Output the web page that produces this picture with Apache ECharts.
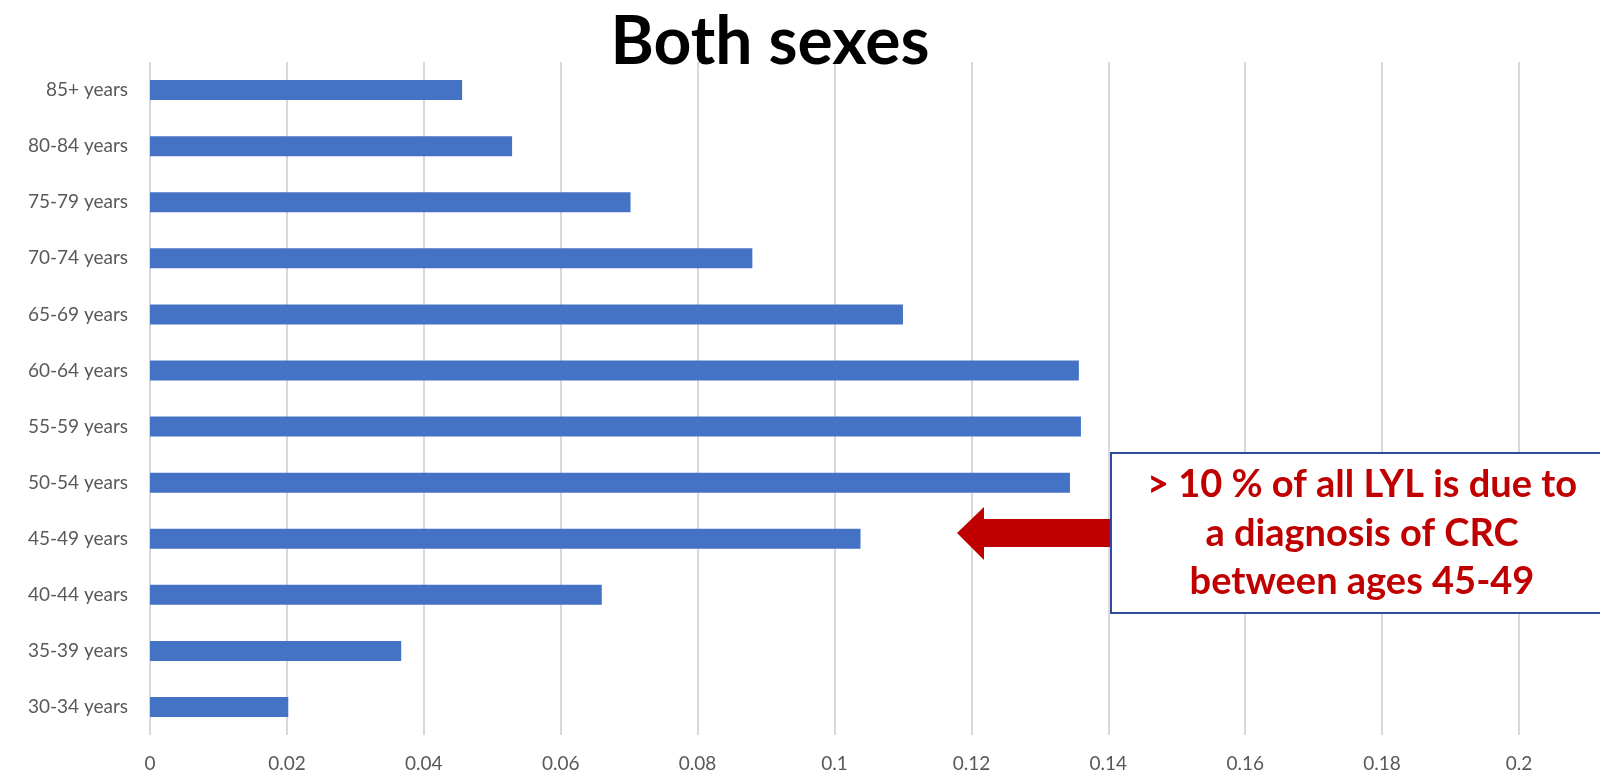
<!DOCTYPE html>
<html>
<head>
<meta charset="utf-8">
<script src="https://cdn.jsdelivr.net/npm/echarts@6/dist/echarts.min.js"></script>
<style>
  html, body { margin: 0; padding: 0; background: #ffffff; }
  #chart { width: 1600px; height: 779px; }
</style>
</head>
<body>
<div id="chart"></div>
<script>
// Share of life-years lost by age at diagnosis, both sexes
const ageGroups = [
  '30-34 years', '35-39 years', '40-44 years', '45-49 years',
  '50-54 years', '55-59 years', '60-64 years', '65-69 years',
  '70-74 years', '75-79 years', '80-84 years', '85+ years'
];
const shareLYL = [
  0.0202, 0.0367, 0.0660, 0.1038,
  0.1344, 0.1360, 0.1357, 0.1100,
  0.0880, 0.0702, 0.0529, 0.0456
];
const xTicks = { min: 0, max: 0.2, step: 0.02 };
const titleText = 'Both sexes';
const noteLines = [
  '> 10 % of all LYL is due to',
  'a diagnosis of CRC',
  'between ages 45-49'
];

const FONT = 'Lato, "Open Sans", "Liberation Sans", sans-serif';
const RED = '#C00000';

const chart = echarts.init(document.getElementById('chart'), null, { renderer: 'canvas' });

chart.setOption({
  animation: false,
  backgroundColor: '#ffffff',
  grid: { left: 150, right: 81, top: 62, bottom: 44, containLabel: false },
  xAxis: {
    type: 'value',
    min: xTicks.min,
    max: xTicks.max,
    interval: xTicks.step,
    axisLine: { show: false },
    axisTick: { show: false },
    splitLine: { show: true, lineStyle: { color: '#d9d9d9', width: 2 } },
    axisLabel: {
      margin: 19,
      fontFamily: FONT,
      fontSize: 19,
      color: '#595959',
      formatter: v => String(parseFloat(v.toFixed(2)))
    }
  },
  yAxis: {
    type: 'category',
    data: ageGroups,
    axisLine: { show: false },
    axisTick: { show: false },
    splitLine: { show: false },
    axisLabel: { margin: 22, fontFamily: FONT, fontSize: 19, color: '#595959' }
  },
  series: [{
    type: 'bar',
    data: shareLYL,
    barWidth: 20,
    itemStyle: { color: '#4472C4' }
  }],
  graphic: [
    {
      type: 'text',
      z: 100,
      x: 770,
      y: 43,
      style: {
        text: titleText,
        fill: '#000000',
        font: 'bold 66px ' + FONT,
        align: 'center',
        verticalAlign: 'middle'
      }
    },
    {
      type: 'polygon',
      z: 100,
      shape: {
        points: [[957, 533], [984, 507], [984, 519], [1111, 519], [1111, 547], [984, 547], [984, 560]]
      },
      style: { fill: RED }
    },
    {
      type: 'rect',
      z: 100,
      shape: { x: 1111, y: 453, width: 502, height: 160 },
      style: { fill: '#ffffff', stroke: '#2F4A9E', lineWidth: 2 }
    },
    ...noteLines.map((t, i) => ({
      type: 'text',
      z: 101,
      x: 1362,
      y: 485 + i * 48.5,
      style: {
        text: t,
        fill: RED,
        font: 'bold 38px ' + FONT,
        align: 'center',
        verticalAlign: 'middle'
      }
    }))
  ]
});
</script>
</body>
</html>
